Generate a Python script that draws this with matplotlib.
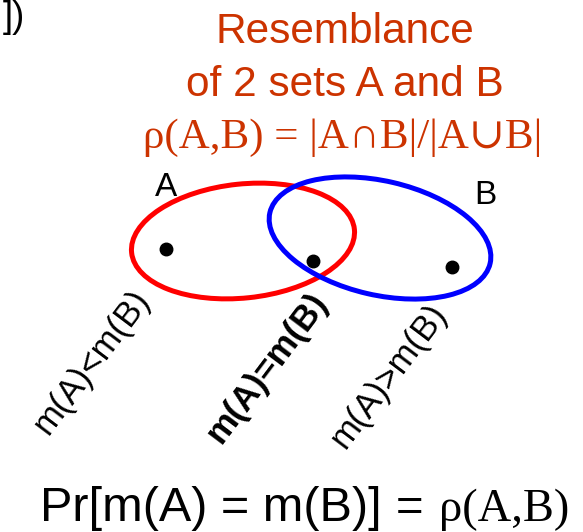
import matplotlib.pyplot as plt
import matplotlib.patches as patches

SANS = ['Liberation Sans', 'DejaVu Sans']
SERIF = ['Liberation Serif', 'DejaVu Serif']
ORANGE = '#CC3300'

# sets: name, centre, width, height, angle, colour
set_names = ['A', 'B']
set_centers = [(243, 241), (380, 238)]
set_widths = [224, 226]
set_heights = [114, 114]
set_angles = [-6, 13]
set_colors = ['#FF0000', '#0000FF']
label_pos = [(166, 187), (485, 196)]

# three sample points (min-hash outcomes)
pts_x = [166, 313, 452]
pts_y = [249, 261, 267]
pt_labels = ['m(A)<m(B)', 'm(A)=m(B)', 'm(A)>m(B)']
pt_label_xy = [(92, 362), (267, 368), (389, 376)]
pt_label_weight = ['normal', 'bold', 'normal']

title_lines = ['Resemblance', 'of 2 sets A and B']
formula = 'ρ(A,B) = |A∩B|/|A∪B|'
bottom_parts = ['Pr[m(A) = m(B)]', '=', 'ρ(A,B)']

fig = plt.figure(figsize=(5.83, 5.32), dpi=100)
ax = fig.add_axes([0, 0, 1, 1])
ax.set_xlim(0, 583)
ax.set_ylim(532, 0)
ax.axis('off')

ax.text(3, 0, '])', fontsize=26, family=SANS, va='top', ha='left')

ax.text(345, 43, title_lines[0], fontsize=30.5, color=ORANGE, family=SANS, ha='center', va='baseline')
ax.text(345, 96, title_lines[1], fontsize=30.5, color=ORANGE, family=SANS, ha='center', va='baseline')
ax.text(343, 148, formula, fontsize=31, color=ORANGE, family=SERIF, ha='center', va='baseline')

for c, w, h, a, col in zip(set_centers, set_widths, set_heights, set_angles, set_colors):
    e = patches.Ellipse(xy=c, width=w, height=h, angle=a, fill=False, ec=col, lw=3.6)
    ax.add_patch(e)

for name, (lx, ly) in zip(set_names, label_pos):
    ax.text(lx, ly, name, fontsize=24, family=SANS, ha='center', va='center')

ax.plot(pts_x, pts_y, 'o', color='k', ms=9, zorder=5)

for t, (lx, ly), wt in zip(pt_labels, pt_label_xy, pt_label_weight):
    ax.text(lx, ly, t, fontsize=25, family=SANS, fontweight=wt, rotation=53,
            ha='center', va='center')

ax.text(40, 521, bottom_parts[0], fontsize=35, family=SANS, ha='left', va='baseline')
ax.text(410, 521, bottom_parts[1], fontsize=34, family=SANS, ha='center', va='baseline')
ax.text(569, 521, bottom_parts[2], fontsize=33.5, family=SERIF, ha='right', va='baseline')

fig.savefig('out.png', dpi=100)
